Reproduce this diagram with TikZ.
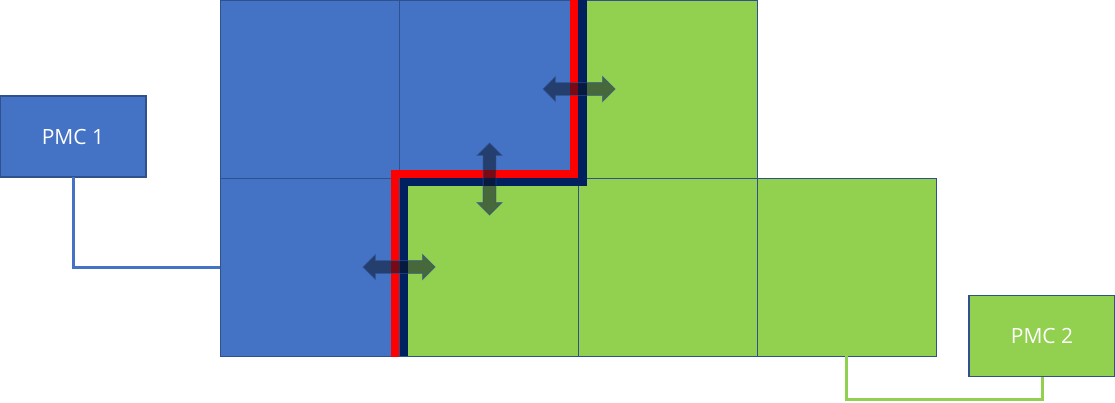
\documentclass[tikz,border=0pt]{standalone}
\usepackage{fontspec}
\setmainfont{Open Sans}
\usepackage{tikz}
\usetikzlibrary{ positioning, shapes.arrows }
\definecolor{zoneblue}{HTML}{4472C4}
\definecolor{zonegreen}{HTML}{92D050}
\definecolor{edgeblue}{HTML}{2F528F}
\definecolor{borderred}{HTML}{FF0000}
\definecolor{bordernavy}{HTML}{002060}
\definecolor{arrowfill}{HTML}{0A1428}
\tikzset{
x=1pt, y=-1pt, % pixel like units, y pointing down
node distance=0pt, % cells touch each other
every node/.style={outer sep=0pt},
cell/.style={rectangle, draw=edgeblue, line width=0.8pt, minimum width=179pt, minimum height=178pt},
bluecell/.style={cell, fill=zoneblue},
greencell/.style={cell, fill=zonegreen},
pmc/.style={rectangle, draw=edgeblue, line width=1.2pt, minimum width=146pt, minimum height=81pt, text=white, font=\fontsize{21}{25}\selectfont},
swap/.style={double arrow, draw=edgeblue, draw opacity=0.6, fill=arrowfill, fill opacity=0.55, line width=0.8pt, minimum height=72pt, inner sep=6pt, double arrow head extend=6pt},
}

\begin{document}
\begin{tikzpicture}
  \useasboundingbox (0,0) rectangle (1115,402);
  % the zones
  \node[bluecell] (b11) at (309.5,89) {};
  \node[bluecell, right=of b11] (b12) {};
  \node[greencell, right=of b12] (g13) {};
  \node[bluecell, below=of b11] (b21) {};
  \node[greencell, right=of b21] (g22) {};
  \node[greencell, right=of g22] (g23) {};
  \node[greencell, right=of g23] (g24) {};

  % border between the two zones
  \draw[borderred, line width=8pt, miter limit=10] (395,357) -- (395,174) -- (574,174) -- (574,0);
  \draw[bordernavy, line width=8.5pt, miter limit=10] (404,356) -- (404,182) -- (582.5,182) -- (582.5,0);

  % exchange across the border
  \node[swap] (swapbottom) at (399,267) {};
  \node[swap, shape border rotate=90] (swapmiddle) at (489.5,179) {};
  \node[swap] (swaptop) at (579,89) {};

  % the controllers
  \node[pmc, fill=zoneblue] (pmc1) at (73,136.5) {PMC 1};
  \node[pmc, fill=zonegreen] (pmc2) at (1042,336) {PMC 2};

  \draw[zoneblue, line width=3pt] (pmc1.south) |- (b21.west);
  \draw[zonegreen, line width=3pt] (g24.south) -- (g24.south |- 0,399) -| (pmc2.south);
\end{tikzpicture}
\end{document}
